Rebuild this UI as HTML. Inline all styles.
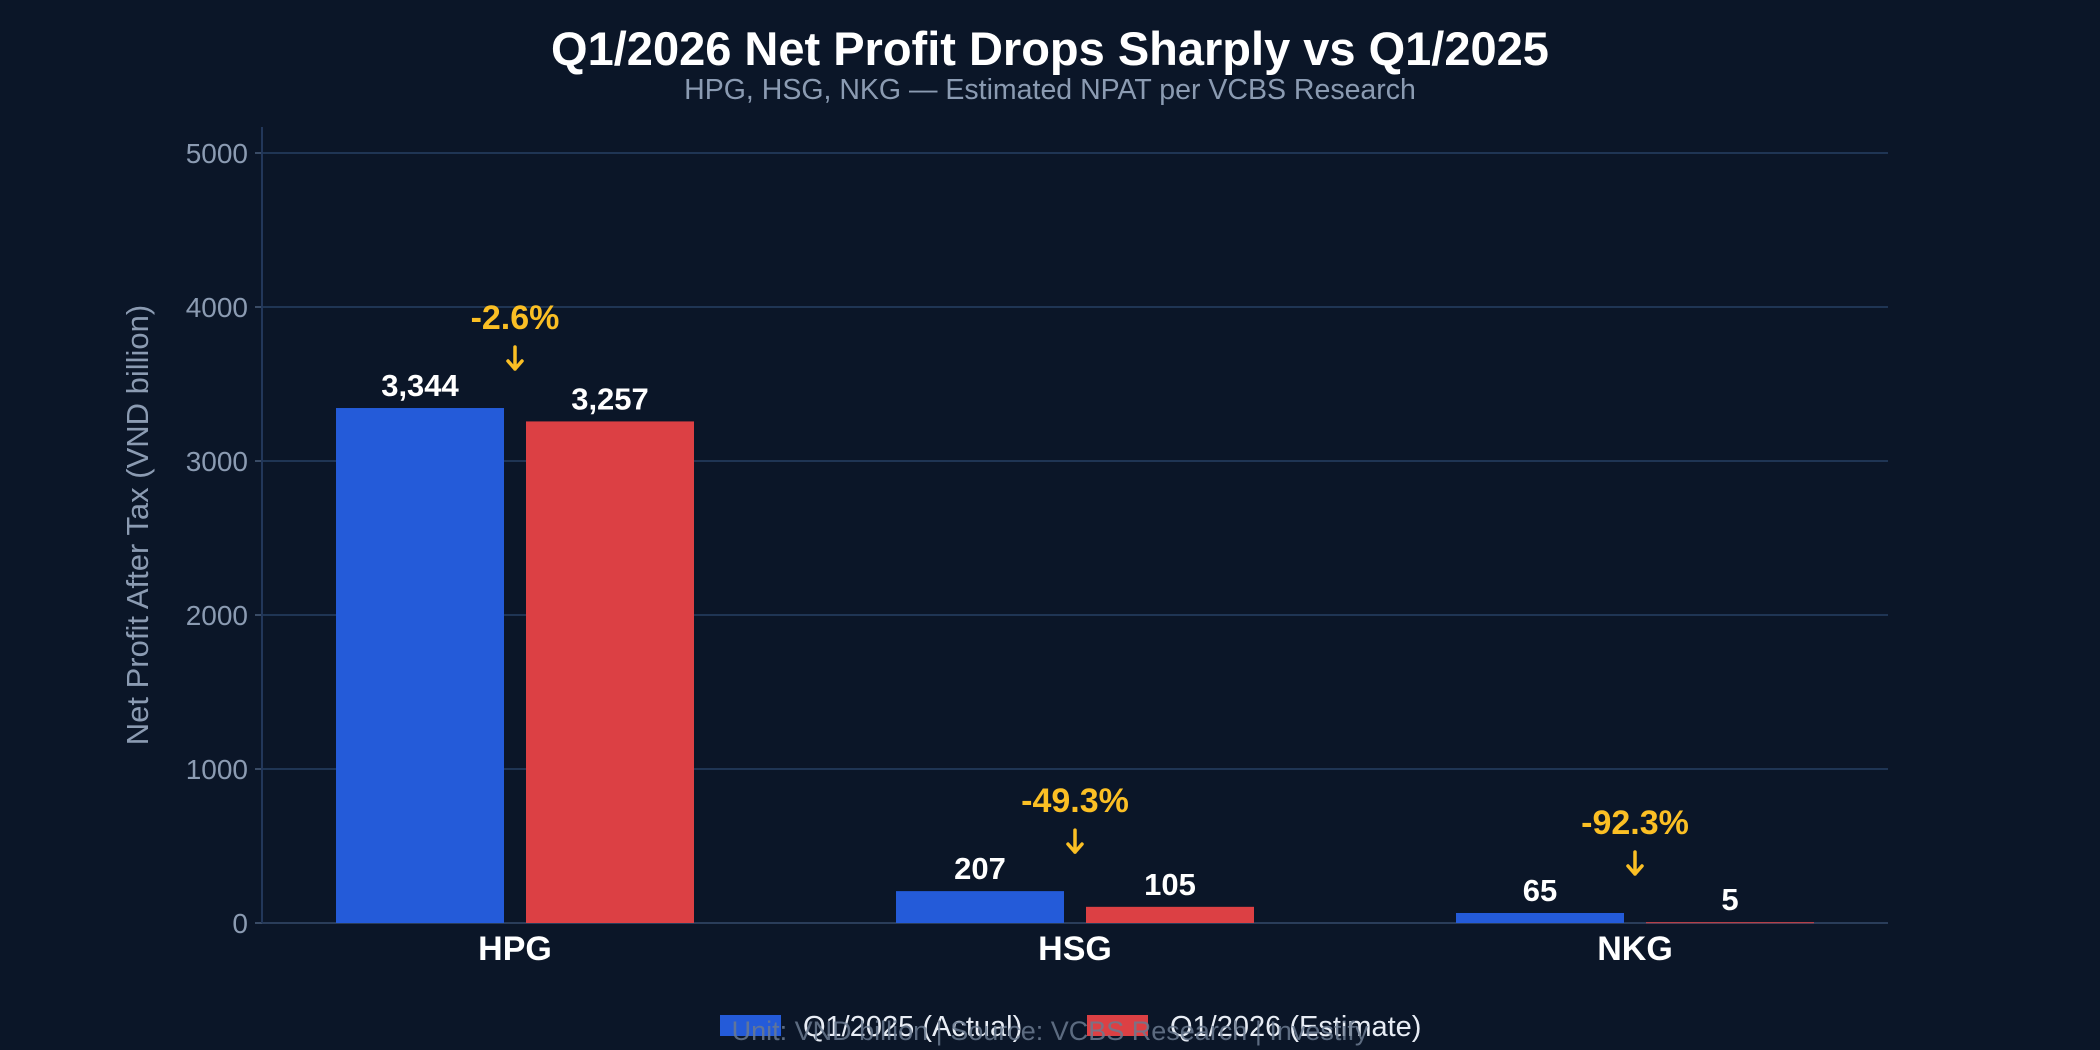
<!DOCTYPE html>
<html><head><meta charset="utf-8"><style>
html,body{margin:0;padding:0;background:#0b1628;}
svg{display:block;font-family:"Liberation Sans","DejaVu Sans",sans-serif;}
</style></head><body>
<svg id="chart" width="2100" height="1050" viewBox="0 0 2100 1050" xmlns="http://www.w3.org/2000/svg">
<rect width="2100" height="1050" fill="#0b1628"/>
<text x="1050" y="65" text-anchor="middle" font-size="47" font-weight="bold" fill="#ffffff">Q1/2026 Net Profit Drops Sharply vs Q1/2025</text>
<text x="1050" y="99" text-anchor="middle" font-size="28.5" fill="#8b9bb2">HPG, HSG, NKG — Estimated NPAT per VCBS Research</text>
<text transform="translate(148,525) rotate(-90)" text-anchor="middle" font-size="31" fill="#8b9bb2">Net Profit After Tax (VND billion)</text>
<g id="grid"></g>
<g id="bars"></g>
<g id="labels"></g>
<g>
<rect x="720" y="1015" width="61" height="21" fill="#245bd9"/>
<text x="803" y="1036" font-size="29" fill="#e8edf5">Q1/2025 (Actual)</text>
<rect x="1087" y="1015" width="61" height="21" fill="#dc4044"/>
<text x="1170" y="1036" font-size="29" fill="#e8edf5">Q1/2026 (Estimate)</text>
</g>
<text x="1050" y="1040" text-anchor="middle" font-size="27" fill="#6b7a90" opacity="0.85">Unit: VND billion | Source: VCBS Research | Investify</text>
</svg>
<script>
const categories = ["HPG","HSG","NKG"];
const actual2025 = [3344,207,65];
const estimate2026 = [3257,105,5];
const changeLabels = ["-2.6%","-49.3%","-92.3%"];
const yTicks = [0,1000,2000,3000,4000,5000];

const NS="http://www.w3.org/2000/svg";
const X0=262, X1=1888, Y0=923, PX_PER=0.154;
function y(v){return Y0 - v*PX_PER;}
function cx(i){return 515 + 560*i;}
const BW=168, GAP=22;
function mk(tag,attrs,parent,text){const e=document.createElementNS(NS,tag);for(const k in attrs)e.setAttribute(k,attrs[k]);if(text!==undefined)e.textContent=text;parent.appendChild(e);return e;}
const grid=document.getElementById('grid'), bars=document.getElementById('bars'), labels=document.getElementById('labels');

yTicks.forEach(t=>{
  const l=mk('line',{x1:X0,x2:X1,y1:y(t),y2:y(t),stroke:t===0?'#2a3d5a':'#1f3554','stroke-width':2},grid);
  
  
  const tk=mk('line',{x1:X0-7,x2:X0,y1:y(t),y2:y(t),stroke:'#3a4c66','stroke-width':2},grid);
  
  
  const tx=mk('text',{x:248,y:y(t)+10,'text-anchor':'end','font-size':28,fill:'#8b9bb2'},grid,String(t));
  
  
});
const ax=mk('line',{x1:X0,x2:X0,y1:127,y2:Y0,stroke:'#22375a','stroke-width':2},grid);



categories.forEach((c,i)=>{
  const c0=cx(i);
  const a=actual2025[i], e=estimate2026[i];
  const bx=c0-GAP/2-BW, rx=c0+GAP/2;
  const b=mk('rect',{x:bx,y:y(a),width:BW,height:Y0-y(a),fill:'#245bd9'},bars);
  
  
  const r=mk('rect',{x:rx,y:y(e),width:BW,height:Math.max(Y0-y(e),1),fill:'#dc4044'},bars);
  
  
  const la=mk('text',{x:bx+BW/2,y:y(a)-12,'text-anchor':'middle','font-size':31,'font-weight':'bold',fill:'#ffffff'},labels,a.toLocaleString('en-US'));
  
  
  const le=mk('text',{x:rx+BW/2,y:y(e)-12,'text-anchor':'middle','font-size':31,'font-weight':'bold',fill:'#ffffff'},labels,e.toLocaleString('en-US'));
  
  
  const top=y(Math.max(a,e));
  const p=mk('text',{x:c0,y:top-79,'text-anchor':'middle','font-size':34,'font-weight':'bold',fill:'#fbbf24'},labels,changeLabels[i]);
  
  
  const ar=mk('path',{d:`M${c0} ${top-61} L${c0} ${top-39} M${c0-7} ${top-47} L${c0} ${top-39} L${c0+7} ${top-47}`,stroke:'#fbbf24','stroke-width':3.5,fill:'none','stroke-linecap':'round','stroke-linejoin':'round'},labels);
  
  
  const cl=mk('text',{x:c0,y:960,'text-anchor':'middle','font-size':34,'font-weight':'bold',fill:'#ffffff'},labels,c);
  
  
});
</script>
</body></html>
